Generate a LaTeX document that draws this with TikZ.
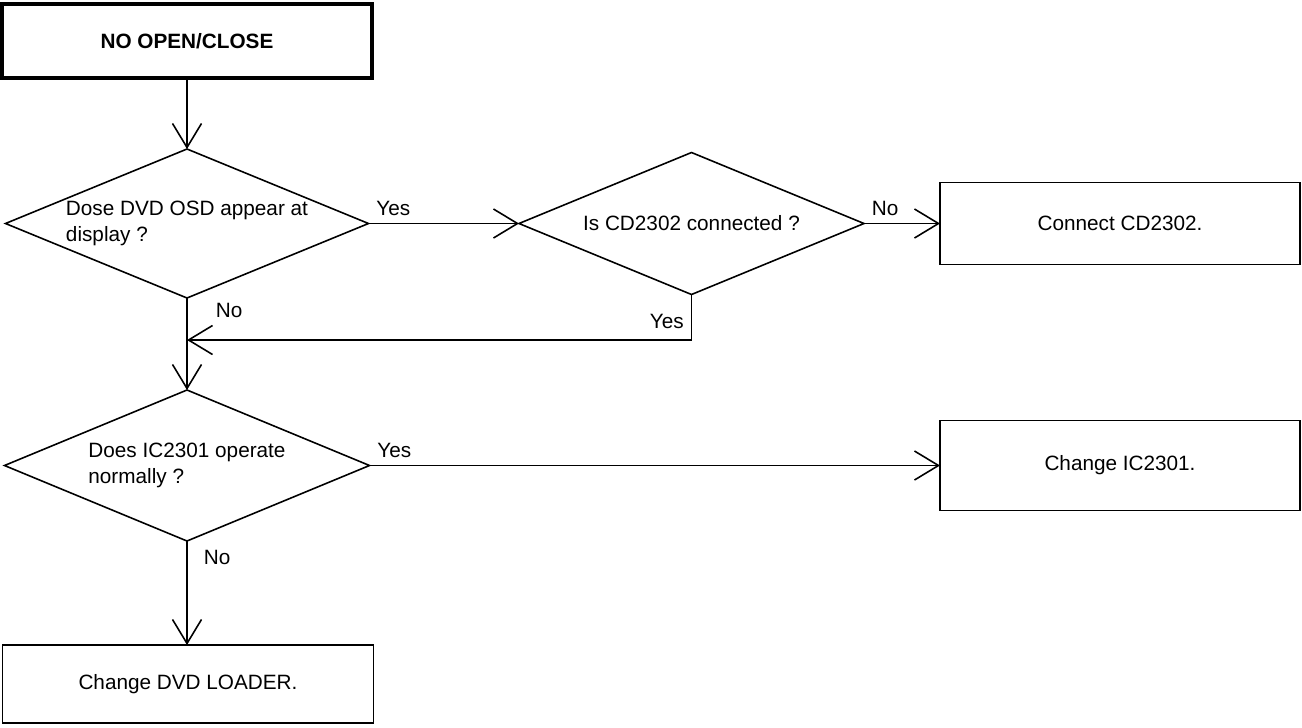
\documentclass[tikz,border=0pt]{standalone}
\usepackage{fontspec}
\setmainfont{Liberation Sans}
\usetikzlibrary{arrows.meta,shapes.geometric,positioning}
\tikzset{
  >={Straight Barb[length=4.8mm,width=5.8mm]},
  txt/.style={font=\fontsize{11.8}{14.8}\selectfont},
  decision/.style={diamond,aspect=2.45,draw,line width=0.9pt,inner sep=0pt,outer sep=0pt,align=left,txt},
  proc/.style={rectangle,draw,line width=0.9pt,inner sep=0pt,outer sep=0pt,txt},
  startbox/.style={rectangle,draw,line width=2.6pt,inner sep=0pt,outer sep=0pt,font=\fontsize{11.8}{14.8}\selectfont\bfseries},
  flow/.style={->,line width=0.9pt},
  lbl/.style={txt,inner sep=4pt}
}
\begin{document}
\begin{tikzpicture}
    \useasboundingbox (0,0) rectangle (26.04,-14.54);

    % Start
    \node[startbox,minimum width=7.4cm,minimum height=1.48cm] (start) at (3.74,-0.82) {NO OPEN/CLOSE};

    % Decisions
    \node[decision,minimum width=7.26cm,minimum height=2.98cm] (d1) at (3.74,-4.47) {Dose DVD OSD appear at\\display ?};
    \node[decision,minimum width=6.9cm,minimum height=2.84cm] (d2) at (13.83,-4.47) {Is CD2302 connected ?};
    \node[decision,minimum width=7.3cm,minimum height=3.02cm] (d3) at (3.74,-9.31) {Does IC2301 operate\\normally ?};

    % Actions
    \node[proc,minimum width=7.2cm,minimum height=1.64cm] (fixcd) at (22.4,-4.47) {Connect CD2302.};
    \node[proc,minimum width=7.2cm,minimum height=1.8cm] (fixic) at (22.4,-9.31) {Change IC2301.};
    \node[proc,minimum width=7.42cm,minimum height=1.56cm] (loader) at (3.76,-13.68) {Change DVD LOADER.};

    \coordinate (merge) at (3.74,-6.8);

    % Connectors
    \draw[flow] (start.south) -- (d1.north);
    \draw[flow] (d1.east) -- node[lbl,pos=0,above right] {Yes} (d2.west);
    \draw[flow] (d2.east) -- node[lbl,pos=0,above right] {No} (fixcd.west);
    \draw[flow] (d2.south) |- node[lbl,pos=0.3,left] {Yes} (merge);
    \draw[flow] (d1.south) -- node[lbl,pos=0.13,right,xshift=0.42cm] {No} (d3.north);
    \draw[flow] (d3.east) -- node[lbl,pos=0,above right] {Yes} (fixic.west);
    \draw[flow] (d3.south) -- node[lbl,pos=0.16,right,xshift=0.18cm] {No} (d3.south |- loader.north);

\end{tikzpicture}
\end{document}
